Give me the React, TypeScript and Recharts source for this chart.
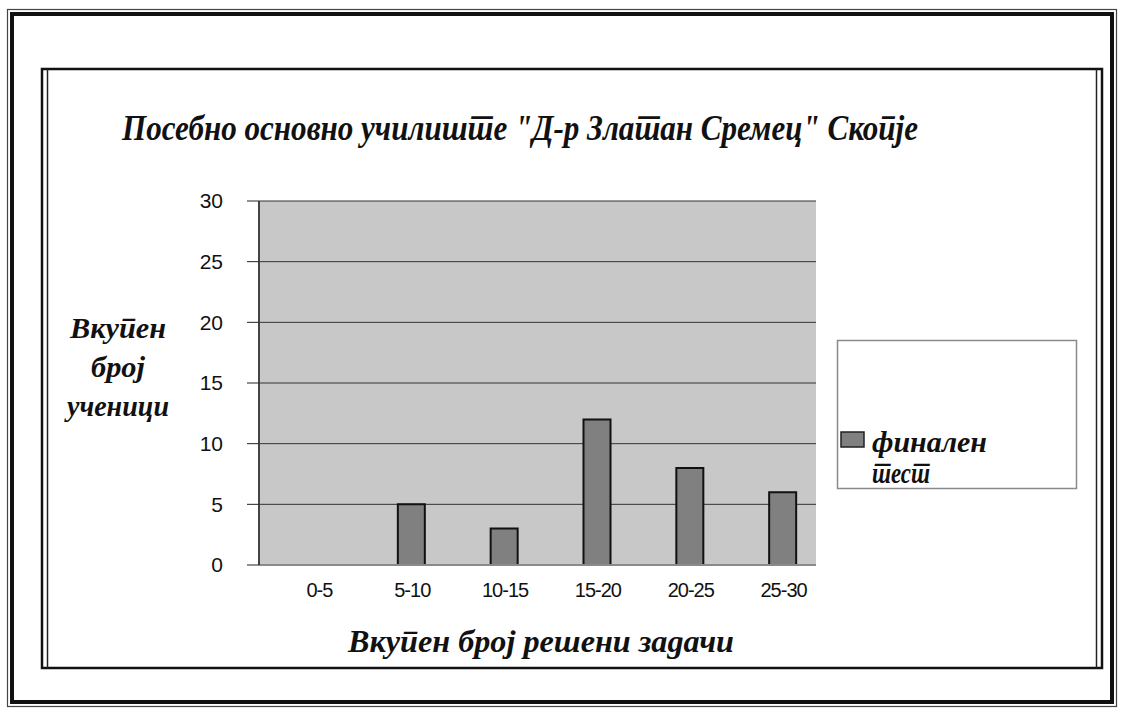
import React from 'react';
import { BarChart, Bar, XAxis, YAxis, CartesianGrid, Legend } from 'recharts';

const categories = ['0-5', '5-10', '10-15', '15-20', '20-25', '25-30'];
const finalTest = [0, 5, 3, 12, 8, 6];
const emptySeries = [null, null, null, null, null, null];
const yTicks = [0, 5, 10, 15, 20, 25, 30];
const chartTitle = 'Посебно основно училиште "Д-р Златан Сремец" Скопје';
const yTitleLines = ['Вкупен', 'број', 'ученици'];
const xTitle = 'Вкупен број  решени задачи';
const seriesName = 'финален тест';

const data = categories.map((c, i) => ({ category: c, empty: emptySeries[i], value: finalTest[i] }));

const SERIF = '"Liberation Serif", "Times New Roman", serif';
const SANS = '"Liberation Sans", Arial, sans-serif';

const XTick = (props: any) => {
  const { x, y, payload } = props;
  return (
    <text x={x + 14} y={y + 32} textAnchor="middle" fontFamily={SANS} fontSize={20} fill="#111" letterSpacing={-1}>
      {payload.value}
    </text>
  );
};

const LegendContent = (props: any) => {
  const items = (props.payload || []).filter((p: any) => p.type !== 'none');
  const name = items.length ? String(items[0].value) : seriesName;
  const words = name.split(' ');
  return (
    <svg width={240} height={149} style={{ display: 'block', overflow: 'visible' }} lang="mk">
      <rect x={0.5} y={0.5} width={239} height={148} fill="#fff" stroke="#8a8a8a" strokeWidth={1.5} />
      <rect x={4} y={92} width={23} height={15} fill="#808080" stroke="#222" strokeWidth={1.5} />
      <text lang="mk" x={35} y={112} fontFamily={SERIF} fontWeight="bold" fontStyle="italic" fontSize={30} fill="#111" textLength={115} lengthAdjust="spacingAndGlyphs">
        {words[0]}
      </text>
      <text lang="mk" x={35} y={143} fontFamily={SERIF} fontWeight="bold" fontStyle="italic" fontSize={30} fill="#111" textLength={58} lengthAdjust="spacingAndGlyphs">
        {words[1]}
      </text>
    </svg>
  );
};

export default function App() {
  return (
    <div lang="mk" style={{ position: 'absolute', left: 0, top: 0, width: 1121, height: 714, background: '#fff' }}>
      <svg width={1121} height={714} style={{ position: 'absolute', left: 0, top: 0 }} lang="mk">
        {/* outer frame */}
        <rect x={7.5} y={9.5} width={1109} height={697} fill="none" stroke="#444" strokeWidth={1.2} />
        <rect x={12} y={14} width={1100} height={688} fill="none" stroke="#111" strokeWidth={4} />
        {/* inner frame */}
        <rect x={42} y={69} width={1060} height={599} fill="none" stroke="#111" strokeWidth={2.5} />
        <line x1={47.5} y1={69} x2={47.5} y2={668} stroke="#222" strokeWidth={1.5} />
        <line x1={1096.5} y1={69} x2={1096.5} y2={668} stroke="#222" strokeWidth={1.5} />
        {/* title */}
        <text lang="mk" x={122} y={140} fontFamily={SERIF} fontWeight="bold" fontStyle="italic" fontSize={36} fill="#111" textLength={796} lengthAdjust="spacingAndGlyphs">
          {chartTitle}
        </text>
        {/* y title */}
        {yTitleLines.map((t, i) => (
          <text lang="mk" key={t} x={118} y={338 + i * 39} textAnchor="middle" fontFamily={SERIF} fontWeight="bold" fontStyle="italic" fontSize={30} fill="#111" textLength={[96, 54, 102][i]} lengthAdjust="spacingAndGlyphs">
            {t}
          </text>
        ))}
        {/* x title */}
        <text lang="mk" x={348} y={652} fontFamily={SERIF} fontWeight="bold" fontStyle="italic" fontSize={32} fill="#111" textLength={386} lengthAdjust="spacingAndGlyphs">
          {xTitle}
        </text>
      </svg>
      <div style={{ position: 'absolute', left: 0, top: 0 }}>
        <BarChart
          width={1121}
          height={714}
          data={data}
          margin={{ top: 201, right: 65, bottom: 119, left: 159 }}
          barGap={0}
          barSize={27}
        >
          <CartesianGrid vertical={false} fill="#c8c8c8" stroke="#333" strokeWidth={1} />
          <XAxis
            dataKey="category"
            height={30}
            tickLine={false}
            tickSize={0}
            tickMargin={0}
            axisLine={{ stroke: '#8a8a8a', strokeWidth: 2 }}
            tick={<XTick />}
            interval={0}
          />
          <YAxis
            width={100}
            domain={[0, 30]}
            ticks={yTicks}
            interval={0}
            tickSize={12}
            tickMargin={24}
            axisLine={{ stroke: '#444', strokeWidth: 2 }}
            tickLine={{ stroke: '#222' }}
            tick={{ fontFamily: SANS, fontSize: 21, fill: '#111' }}
          />
          <YAxis
            yAxisId="right"
            orientation="right"
            width={0}
            domain={[0, 30]}
            tick={false}
            tickLine={false}
            axisLine={{ stroke: '#8a8a8a', strokeWidth: 2 }}
          />
          <Legend
            layout="vertical"
            align="right"
            verticalAlign="middle"
            content={<LegendContent />}
            wrapperStyle={{ position: 'absolute', left: 837, top: 340, width: 240, height: 149 }}
          />
          <Bar dataKey="empty" legendType="none" fill="none" isAnimationActive={false} />
          <Bar dataKey="value" name={seriesName} fill="#808080" stroke="#111" strokeWidth={2} isAnimationActive={false} />
        </BarChart>
      </div>
    </div>
  );
}
